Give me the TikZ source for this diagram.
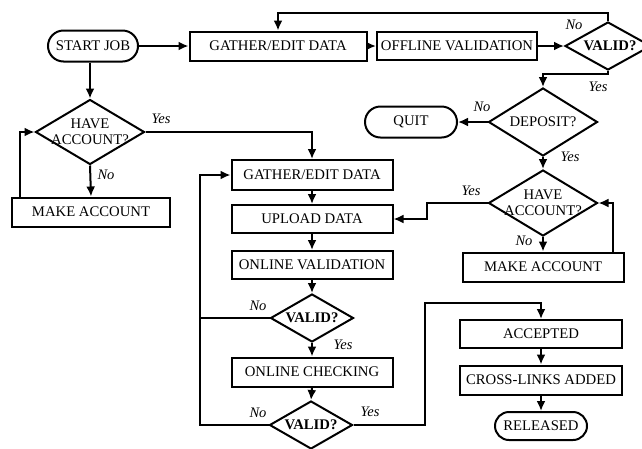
\documentclass[tikz,border=0pt]{standalone}
\usepackage{fontspec}
\setmainfont{Liberation Serif}
\usetikzlibrary{shapes.geometric,shapes.misc,arrows.meta}
\begin{document}
\begin{tikzpicture}[x=1pt,y=-1pt,
  txt/.style={font=\fontsize{14.7}{16}\selectfont},
  box/.style={txt, draw, line width=2pt, inner sep=0pt},
  term/.style={txt, draw, line width=2pt, rounded rectangle, inner sep=0pt},
  dia/.style={draw, line width=2pt, diamond, inner sep=0pt},
  lbl/.style={txt, align=center},
  blbl/.style={font=\fontsize{14.7}{16}\selectfont\bfseries},
  ans/.style={font=\fontsize{14.5}{16}\selectfont\itshape},
  arr/.style={line width=2pt, -{Latex[length=10pt,width=9pt]}},
  ln/.style={line width=2pt}]
\useasboundingbox (0,0) rectangle (642,448);

% top row
\node[term, minimum width=90pt, minimum height=31pt] (start) at (93,46) {START JOB};
\node[box, minimum width=177pt, minimum height=29pt] (g1) at (278,46) {GATHER/EDIT DATA};
\node[box, minimum width=160pt, minimum height=28pt] (off) at (457,46) {OFFLINE VALIDATION};
\node[dia, minimum width=86pt, minimum height=48pt] (v1) at (608,46) {};
\node[blbl] (v1t) at (610,46) {VALID?};

% right branch
\node[dia, minimum width=109pt, minimum height=68pt] (dep) at (543,122) {};
\node[lbl] (dept) at (543,122) {DEPOSIT?};
\node[term, minimum width=92pt, minimum height=31pt] (quit) at (411,122) {QUIT};
\node[dia, minimum width=109pt, minimum height=66pt] (ha2) at (543,203) {};
\node[lbl] (ha2t) at (543,203) {HAVE\\ACCOUNT?};
\node[box, minimum width=161pt, minimum height=29pt] (mk2) at (543,267) {MAKE ACCOUNT};

% left branch
\node[dia, minimum width=109pt, minimum height=65pt] (ha1) at (90,132) {};
\node[lbl] (ha1t) at (90,132) {HAVE\\ACCOUNT?};
\node[box, minimum width=158pt, minimum height=29pt] (mk1) at (91,212) {MAKE ACCOUNT};

% middle column
\node[box, minimum width=161pt, minimum height=30pt] (g2) at (312,175) {GATHER/EDIT DATA};
\node[box, minimum width=161pt, minimum height=28pt] (up) at (312,219) {UPLOAD DATA};
\node[box, minimum width=161pt, minimum height=28pt] (onv) at (312,265) {ONLINE VALIDATION};
\node[dia, minimum width=83pt, minimum height=48pt] (v2) at (312,318) {};
\node[blbl] (v2t) at (312,318) {VALID?};
\node[box, minimum width=161pt, minimum height=29pt] (chk) at (312,372) {ONLINE CHECKING};
\node[dia, minimum width=83pt, minimum height=48pt] (v3) at (311,425) {};
\node[blbl] (v3t) at (311,425) {VALID?};

% right bottom column
\node[box, minimum width=162pt, minimum height=28pt] (acc) at (541,334) {ACCEPTED};
\node[box, minimum width=162pt, minimum height=29pt] (cross) at (541,380) {CROSS-LINKS ADDED};
\node[term, minimum width=92pt, minimum height=28pt] (rel) at (541,426) {RELEASED};

% helper coordinates
\coordinate (ctop) at (0,13);
\coordinate (cv1) at (0,74);
\coordinate (c1) at (427,0);
\coordinate (c2) at (613,0);
\coordinate (c3) at (20,0);
\coordinate (c4) at (200,0);
\coordinate (c5) at (425,303);

% connectors top row
\draw[arr] (start.east) -- (g1.west);
\draw[arr] (g1.east) -- (off.west);
\draw[arr] (off.east) -- (v1.west);
\draw[arr] (v1.north) -- (v1.north |- ctop) -| (g1.north);
\draw[arr] (v1.south) -- (v1.south |- cv1) -| (dep.north);
\draw[arr] (dep.west) -- (quit.east);
\draw[arr] (dep.south) -- (ha2.north);
\draw[arr] (ha2.west) -| (c1 |- up.east) -- (up.east);
\draw[arr] (ha2.south) -- (mk2.north);
\draw[arr] (mk2.north -| c2) |- (ha2.east);

% left
\draw[arr] (ha1.north |- start.south) -- (ha1.north);
\draw[arr] (ha1.east) -| (g2.north);
\draw[arr] (ha1.south) -- (mk1.north);
\draw[arr] (mk1.north -| c3) |- (ha1.west);

% middle
\draw[arr] (g2.south) -- (up.north);
\draw[arr] (up.south) -- (onv.north);
\draw[arr] (onv.south) -- (v2.north);
\draw[arr] (v2.south) -- (chk.north);
\draw[arr] (chk.south) -- (v3.north);
\draw[ln] (v2.west) -- (v2.west -| c4);
\draw[arr] (v3.west) -| (c4 |- g2.west) -- (g2.west);
\draw[arr] (v3.east) -| (c5) -| (acc.north);

% right bottom
\draw[arr] (acc.south) -- (cross.north);
\draw[arr] (cross.south) -- (rel.north);

% answer labels
\node[ans] (a1) at (574,25) {No};
\node[ans] (a2) at (598,87) {Yes};
\node[ans] (a3) at (482,107) {No};
\node[ans] (a4) at (570,157) {Yes};
\node[ans] (a5) at (471,191) {Yes};
\node[ans] (a6) at (524,241) {No};
\node[ans] (a7) at (161,119) {Yes};
\node[ans] (a8) at (106,175) {No};
\node[ans] (a9) at (258,306) {No};
\node[ans] (a10) at (343,345) {Yes};
\node[ans] (a11) at (258,413) {No};
\node[ans] (a12) at (370,412) {Yes};
\end{tikzpicture}
\end{document}
